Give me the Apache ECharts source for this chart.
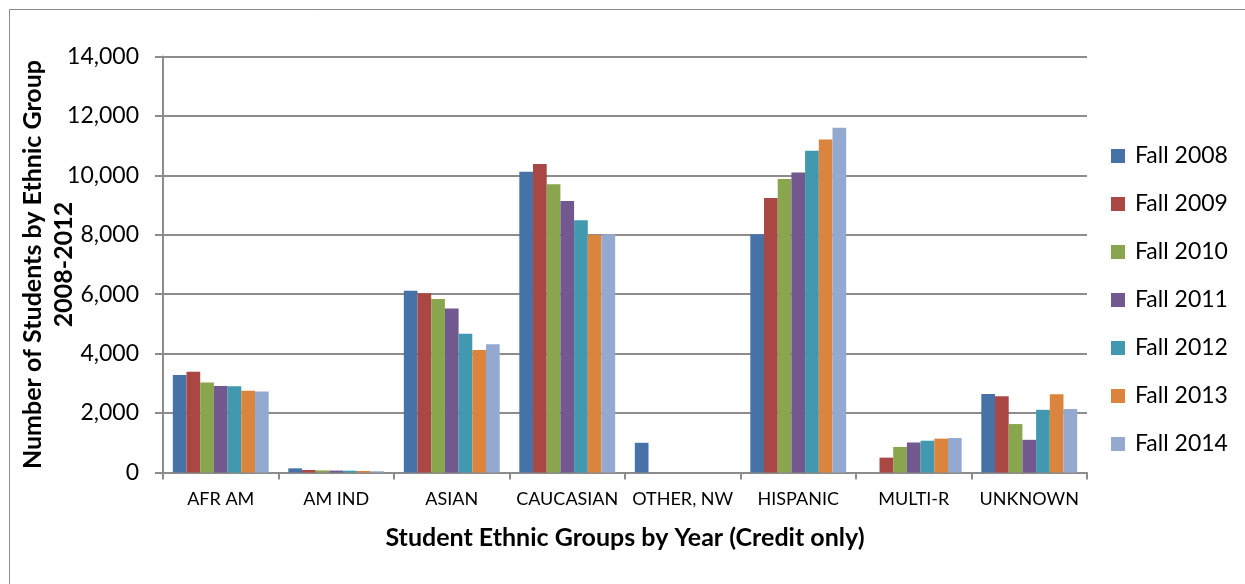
<!DOCTYPE html>
<html>
<head>
<meta charset="utf-8">
<script src="https://cdn.jsdelivr.net/npm/echarts@6/dist/echarts.min.js"></script>
<style>
  html, body { margin: 0; padding: 0; background: #ffffff; }
  #chart { width: 1245px; height: 584px; }
</style>
</head>
<body>
<div id="chart"></div>
<script>
// Student headcount by ethnic group, credit students, fall terms 2008-2014
const categories = ['AFR AM', 'AM IND', 'ASIAN', 'CAUCASIAN', 'OTHER, NW', 'HISPANIC', 'MULTI-R', 'UNKNOWN'];
const years = ['Fall 2008', 'Fall 2009', 'Fall 2010', 'Fall 2011', 'Fall 2012', 'Fall 2013', 'Fall 2014'];

const fall2008 = [3280, 140, 6120, 10120, 1000, 8020, 0, 2640];
const fall2009 = [3390, 85, 6030, 10380, 0, 9240, 500, 2570];
const fall2010 = [3030, 70, 5840, 9700, 0, 9880, 860, 1630];
const fall2011 = [2910, 65, 5520, 9140, 0, 10100, 1010, 1100];
const fall2012 = [2900, 60, 4670, 8490, 0, 10830, 1070, 2110];
const fall2013 = [2750, 50, 4120, 7990, 0, 11210, 1140, 2630];
const fall2014 = [2730, 40, 4320, 8020, 0, 11600, 1160, 2140];

const yTicks = [0, 2000, 4000, 6000, 8000, 10000, 12000, 14000];

const seriesValues = [fall2008, fall2009, fall2010, fall2011, fall2012, fall2013, fall2014];
const colors = ['#4672a8', '#aa4643', '#89a54e', '#71588f', '#4198af', '#db843d', '#93a9cf'];

const FONT = 'Lato, "Open Sans", sans-serif';
const GRAY = '#8c8c8c';

const chart = echarts.init(document.getElementById('chart'), null, { renderer: 'canvas' });

chart.setOption({
  animation: false,
  backgroundColor: '#ffffff',
  color: colors,
  textStyle: { fontFamily: FONT, color: '#000' },
  graphic: [{
    type: 'rect',
    silent: true,
    shape: { x: 9.5, y: 9.5, width: 1300, height: 700 },
    style: { fill: 'none', stroke: '#8a8a8a', lineWidth: 1 }
  }],
  grid: { left: 163, right: 158, top: 56.5, bottom: 111.5, containLabel: false, outerBoundsMode: 'none' },
  legend: {
    orient: 'vertical',
    left: 1111,
    top: 144,
    padding: 0,
    itemWidth: 14,
    itemHeight: 14,
    itemGap: 24,
    icon: 'rect',
    data: years,
    textStyle: { fontFamily: FONT, fontSize: 23, lineHeight: 24, color: '#000', padding: [0, 0, 0, 5] }
  },
  xAxis: {
    type: 'category',
    data: categories,
    name: 'Student Ethnic Groups by Year (Credit only)',
    nameLocation: 'middle',
    nameGap: 53,
    nameMoveOverlap: false,
    nameTextStyle: { fontFamily: FONT, fontSize: 25, fontWeight: 'bold', color: '#000' },
    axisLine: { show: true, lineStyle: { color: GRAY, width: 2 } },
    axisTick: { show: true, alignWithLabel: false, length: 7, lineStyle: { color: GRAY, width: 2 } },
    axisLabel: { fontFamily: FONT, fontSize: 18, color: '#000', margin: 18, interval: 0 },
    splitLine: { show: false }
  },
  yAxis: {
    type: 'value',
    min: 0,
    max: 14000,
    interval: 2000,
    name: 'Number of Students by Ethnic Group\n2008-2012',
    nameLocation: 'middle',
    nameGap: 84,
    nameRotate: 90,
    nameMoveOverlap: false,
    nameTextStyle: { fontFamily: FONT, fontSize: 25, fontWeight: 'bold', color: '#000', lineHeight: 31, align: 'center' },
    axisLine: { show: true, lineStyle: { color: GRAY, width: 2 } },
    axisTick: { show: true, length: 8, lineStyle: { color: GRAY, width: 2 } },
    axisLabel: {
      fontFamily: FONT, fontSize: 23, color: '#000', margin: 24,
      formatter: v => yTicks.includes(v) ? v.toLocaleString('en-US') : ''
    },
    splitLine: { show: true, lineStyle: { color: GRAY, width: 2 } }
  },
  series: years.map((name, i) => ({
    name,
    type: 'bar',
    data: seriesValues[i],
    barGap: '0%',
    barCategoryGap: '17%',
    itemStyle: { color: colors[i] }
  }))
});
</script>
</body>
</html>
